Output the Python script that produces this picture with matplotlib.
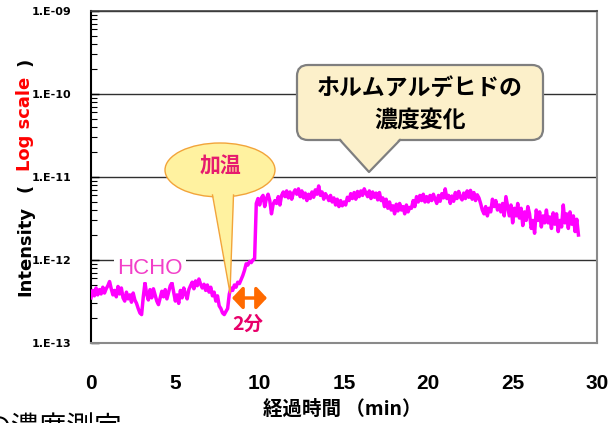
import matplotlib
matplotlib.use('Agg')
import matplotlib.pyplot as plt
from matplotlib.patches import Ellipse, Polygon, FancyBboxPatch, FancyArrowPatch
from matplotlib.transforms import Affine2D
from matplotlib.ticker import LogLocator, NullFormatter, FixedLocator, FixedFormatter
from matplotlib.lines import Line2D

# ---------------- data ----------------
time_step_min = 0.1
# HCHO intensity in units of 1e-13, sampled every 0.1 min from 0.0 min
hcho_e13 = [
    3.5, 4.3, 3.7, 4.6, 3.8, 4.4, 3.9, 4.7, 4.0, 4.5,
    4.9, 5.5, 4.5, 3.8, 4.3, 3.6, 4.8, 3.9, 4.6, 3.5,
    3.2, 4.1, 3.4, 3.8, 3.1, 4.0, 3.3, 3.0, 2.6, 2.3,
    2.2, 3.6, 5.3, 3.9, 3.3, 4.4, 3.5, 4.5, 3.8, 3.2,
    2.9, 3.5, 4.2, 3.6, 4.4, 3.4, 4.1, 4.9, 5.3, 4.1,
    3.2, 3.8, 3.0, 4.3, 3.5, 4.6, 3.9, 3.4, 4.4, 4.9,
    5.4, 4.5, 5.6, 4.9, 5.9, 5.1, 4.6, 5.1, 4.3, 5.0,
    4.1, 4.7, 3.7, 4.1, 3.2, 3.7, 2.8, 2.6, 2.3, 2.2,
    2.4, 2.6, 3.9, 4.6, 4.3, 5.0, 4.7, 5.4, 5.2, 5.8,
    6.5, 7.5, 9.0, 8.7, 9.6, 9.3, 10.0, 10.4, 48, 55,
    46, 56, 60, 44, 55, 62, 52, 36, 47, 52,
    48, 58, 46, 60, 66, 58, 68, 56, 66, 54,
    64, 70, 62, 72, 58, 68, 56, 64, 52, 62,
    55, 66, 57, 70, 62, 78, 60, 66, 54, 63,
    58, 52, 60, 50, 56, 46, 54, 44, 52, 45,
    50, 46, 57, 52, 63, 55, 65, 54, 67, 58,
    68, 60, 72, 64, 58, 68, 55, 66, 57, 64,
    53, 65, 52, 56, 44, 54, 42, 50, 40, 45,
    36, 47, 39, 48, 40, 44, 36, 46, 38, 43,
    42, 52, 44, 58, 50, 60, 52, 62, 50, 58,
    50, 60, 52, 62, 54, 48, 60, 51, 63, 56,
    72, 55, 60, 48, 59, 51, 65, 55, 67, 57,
    53, 64, 55, 68, 57, 69, 54, 65, 52, 61,
    56, 48, 40, 36, 44, 34, 42, 38, 54, 44,
    52, 40, 46, 38, 48, 34, 58, 44, 34, 46,
    28, 42, 34, 48, 32, 42, 26, 38, 30, 44,
    36, 24, 30, 21, 40, 30, 38, 25, 34, 28,
    40, 28, 33, 24, 37, 27, 36, 22, 30, 25,
    46, 28, 36, 24, 38, 27, 34, 22, 31, 20,
]
time_min = [round(i * time_step_min, 1) for i in range(len(hcho_e13))]
intensity = [v * 1e-13 for v in hcho_e13]

x_ticks = [0, 5, 10, 15, 20, 25, 30]
y_ticks = [1e-13, 1e-12, 1e-11, 1e-10, 1e-9]
y_tick_labels = ['1.E-13', '1.E-12', '1.E-11', '1.E-10', '1.E-09']

# ---------------- figure ----------------
W, H = 616, 423
fig = plt.figure(figsize=(W / 100, H / 100), dpi=100)
# pixel transform (x from left, y from top)
T = Affine2D().scale(1 / 100, -1 / 100).translate(0, H / 100) + fig.dpi_scale_trans

ax = fig.add_axes([91 / W, 1 - 343 / H, (597 - 91) / W, (343 - 11) / H])
ax.plot(time_min, intensity, color='#FF00FF', lw=2.5, zorder=3,
        solid_joinstyle='round')
ax.set_yscale('log')
ax.set_xlim(0, 30)
ax.set_ylim(1e-13, 1e-9)

ax.yaxis.set_major_locator(FixedLocator(y_ticks))
ax.yaxis.set_major_formatter(FixedFormatter(y_tick_labels))
ax.yaxis.set_minor_locator(LogLocator(base=10, subs=range(2, 10)))
ax.yaxis.set_minor_formatter(NullFormatter())
ax.set_xticks(x_ticks)
ax.set_xticklabels([str(t) for t in x_ticks])

ax.tick_params(axis='y', which='major', direction='in', length=6, width=1,
               pad=14, labelsize=8)
ax.tick_params(axis='y', which='minor', direction='in', length=4, width=0.8)
ax.tick_params(axis='x', length=0, pad=22, labelsize=15)
for lab in ax.get_yticklabels():
    lab.set_fontweight('bold')
    lab.set_family('DejaVu Sans')
for lab in ax.get_xticklabels():
    lab.set_fontweight('bold')
    lab.set_family('Liberation Sans')

ax.yaxis.grid(True, which='major', color='#303030', lw=1)
ax.set_axisbelow(True)
ax.spines['left'].set_color('black')
ax.spines['left'].set_linewidth(1.5)
ax.spines['bottom'].set_color('#8a8a8a')
ax.spines['bottom'].set_linewidth(1.5)
ax.spines['top'].set_color('#404040')
ax.spines['top'].set_linewidth(1.2)
ax.spines['right'].set_color('#8a8a8a')
ax.spines['right'].set_linewidth(1.5)

# ---------------- axis labels ----------------
cjk = ['Noto Sans CJK JP', 'DejaVu Sans']
fig.text(25, 251, 'Intensity', transform=T, rotation=90, ha='center', va='center',
         fontsize=13, fontweight='bold', family='DejaVu Sans', color='black')
fig.text(25, 188, '(', transform=T, rotation=90, ha='center', va='center',
         fontsize=13, fontweight='bold', family='DejaVu Sans', color='black')
fig.text(25, 124, 'Log scale', transform=T, rotation=90, ha='center', va='center',
         fontsize=13, fontweight='bold', family='DejaVu Sans', color='#FF0000')
fig.text(25, 62, ')', transform=T, rotation=90, ha='center', va='center',
         fontsize=13, fontweight='bold', family='DejaVu Sans', color='black')

fig.text(342, 409, '経過時間 （min）', transform=T, ha='center', va='center',
         fontsize=14, fontweight='bold', family=cjk, color='black')
fig.text(-16, 428, 'の濃度測定', transform=T, ha='left', va='center',
         fontsize=20, family=cjk, color='black')

# ---------------- callout: 加温 ----------------
fill_y = '#FFF2A0'
edge_o = '#F2A43A'
ell = Ellipse((220, 170), 110, 54, transform=T, facecolor=fill_y,
              edgecolor=edge_o, lw=1.0, zorder=4)
fig.add_artist(ell)
tri = Polygon([(212, 190), (234, 190), (230, 293)], closed=True, transform=T,
              facecolor=fill_y, edgecolor='none', zorder=4.1)
fig.add_artist(tri)
fig.add_artist(Line2D([212.5, 230, 233.5], [195, 293, 195], transform=T,
                      color=edge_o, lw=1.0, zorder=4.2))
fig.text(221, 166, '加温', transform=T, ha='center', va='center', fontsize=15,
         fontweight='bold', family=cjk, color='#E61B6E', zorder=5)

# ---------------- callout: ホルムアルデヒドの濃度変化 ----------------
fill_b = '#FCF0CA'
edge_g = '#7F7F7F'
box = FancyBboxPatch((297, 65), 246, 75, boxstyle='round,pad=0,rounding_size=11',
                     transform=T, facecolor=fill_b, edgecolor=edge_g, lw=1.6,
                     zorder=4)
fig.add_artist(box)
tri2 = Polygon([(339, 137), (401, 137), (369, 172)], closed=True, transform=T,
               facecolor=fill_b, edgecolor='none', zorder=4.1)
fig.add_artist(tri2)
fig.add_artist(Line2D([340, 369, 400], [140, 172, 140], transform=T,
                      color=edge_g, lw=1.6, zorder=4.2))
fig.text(420, 88, 'ホルムアルデヒドの', transform=T, ha='center', va='center',
         fontsize=16.5, fontweight='bold', family=cjk, color='black', zorder=5)
fig.text(420, 120, '濃度変化', transform=T, ha='center', va='center',
         fontsize=16.5, fontweight='bold', family=cjk, color='black', zorder=5)

# ---------------- HCHO label ----------------
fig.text(150, 268, 'HCHO', transform=T, ha='center', va='center', fontsize=16,
         family='Liberation Sans', color='#F23FC8', zorder=5,
         bbox=dict(boxstyle='square,pad=0.15', facecolor='white', edgecolor='none'))

# ---------------- 2分 arrow ----------------
arr = FancyArrowPatch((232, 298), (267, 298), transform=T,
                      arrowstyle='<|-|>,head_length=0.7,head_width=0.75',
                      mutation_scale=9, lw=2.5, color='#FF6A00',
                      shrinkA=0, shrinkB=0, zorder=5)
fig.add_artist(arr)
fig.text(248, 324, '2分', transform=T, ha='center', va='center', fontsize=14,
         fontweight='bold', family=cjk, color='#E8006A', zorder=5)

fig.savefig('out.png', dpi=100)
